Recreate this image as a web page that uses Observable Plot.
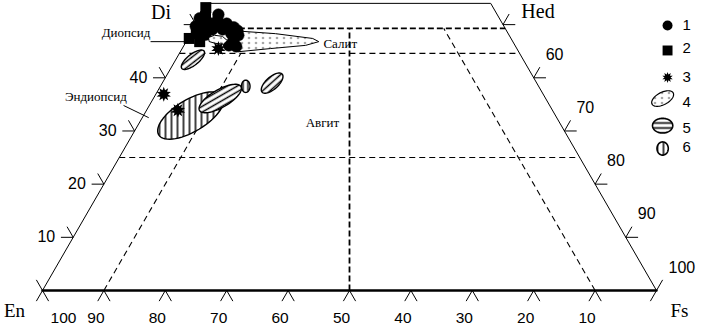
<!DOCTYPE html>
<html><head><meta charset="utf-8">
<script src="https://cdn.jsdelivr.net/npm/d3@7"></script>
<script src="https://cdn.jsdelivr.net/npm/@observablehq/plot@0.6"></script>
<style>body{margin:0;background:#fff}#chart{width:701px;height:328px}</style>
</head><body><div id="chart"></div>
<script>
// ---------- data (Wo = wollastonite %, Fs = ferrosilite %) ----------
const frameFs = [0, 100, 46, 0];
const frameWo = [0, 0, 54, 54];
const bottomTickFs = [0, 10, 20, 30, 40, 50, 60, 70, 80, 90, 100];
const bottomTickLabels = ["100", "90", "80", "70", "60", "50", "40", "30", "20", "10"];
const leftTickWo = [0, 10, 20, 30, 40, 50];
const leftTickLabels = ["10", "20", "30", "40"];
const rightTickWo = [0, 10, 20, 30, 40, 50];
const rightTickLabels = ["100", "90", "80", "70", "60"];
const cornerNames = ["En", "Fs", "Di", "Hed"];
const cornerFs = [0, 100, 0, 50];
const cornerWo = [0, 0, 50, 50];
// dashed boundary lines: from (Fs,Wo) to (Fs,Wo)
const dashFromFs = [0, 0, 0, 10, 90, 50];
const dashFromWo = [49.3, 44.6, 25, 0, 0, 0];
const dashToFs = [50.7, 55.4, 75, 10, 40.7, 25.35];
const dashToWo = [49.3, 44.6, 25, 44.6, 49.3, 49.3];
// field names
const fieldNames = ["Диопсид", "Салит", "Эндиопсид", "Авгит"];
const fieldNameX = [13.6, 48.5, 8.7, 45.6];
const fieldNameWo = [48.4, 46.3, 36.5, 31.6];
// group 1 (circles), 2 (squares), 3 (stars)
const g1Wo = [51.2, 50.4, 50.8, 50.2, 49.5, 49.3, 49.1, 49.1, 48.3, 47.0, 46.1, 48.1, 48.9, 49.7, 49.8, 49.7, 48.0, 45.9, 51.9];
const g1Fs = [0.0, 1.8, 3.1, 4.9, 6.4, 1.4, 3.1, 4.8, 6.6, 7.6, 7.3, 2.5, 7.3, 0.1, 3.3, 5.0, 7.9, 8.6, 2.7];
const g2Wo = [53.2, 51.5, 47.4, 46.8, 48.3];
const g2Fs = [0.0, 0.8, 0.2, 2.2, 0.9];
const g3Wo = [45.5, 36.9, 33.9];
const g3Fs = [5.9, 1.3, 5.1];
// group 4 fields (outlines)
const salitWo = [48.8, 48.3, 47.4, 46.8, 46.1, 45.5, 44.9];
const salitFs = [7.4, 13.8, 20.3, 21.6, 19.8, 14.4, 9.4];
const small4Wo = [47.6, 48.0, 47.8, 47.0, 46.3, 46.5, 46.8];
const small4Fs = [3.3, 4.0, 5.4, 6.6, 6.3, 4.8, 3.8];
// group 5 and 6 fields (ellipses): centre, semi-axes, tilt
const ellType = ["6", "5", "5", "5", "5"];
const ellWo = [32.9, 36.1, 43.4, 38.4, 39.0];
const ellFs = [7.7, 10.9, 2.8, 13.9, 17.9];
const ellA = [6.1, 3.9, 2.3, 1.0, 2.2];
const ellB = [2.6, 1.45, 0.9, 0.7, 1.0];
const ellAng = [31, 30, 38, 90, 42];
const legendKeys = ["1", "2", "3", "4", "5", "6"];

// ---------- helpers ----------
const K = Math.sqrt(3) / 2;
const X = (fs, wo) => fs + wo / 2;
function ellipse(wo0, fs0, a, b, angDeg, n = 60) {
  const th = angDeg * Math.PI / 180, pts = [];
  for (let i = 0; i < n; i++) {
    const t = 2 * Math.PI * i / n;
    const dx = a * Math.cos(t) * Math.cos(th) - b * Math.sin(t) * Math.sin(th);
    const dy = a * Math.cos(t) * Math.sin(th) + b * Math.sin(t) * Math.cos(th);
    pts.push({x: X(fs0, wo0) + dx, y: wo0 + dy / K});
  }
  return pts;
}
const sun = {draw(ctx, size) {
  const R = Math.sqrt(size / Math.PI), r = R * 0.55, n = 10;
  for (let i = 0; i < 2 * n; i++) {
    const a = Math.PI * i / n - Math.PI / 2, rr = i % 2 ? r : R;
    const x = rr * Math.cos(a), y = rr * Math.sin(a);
    i ? ctx.lineTo(x, y) : ctx.moveTo(x, y);
  }
  ctx.closePath();
}};

const frame = frameFs.map((f, i) => ({x: X(f, frameWo[i]), y: frameWo[i]}));
const ticks = [];
bottomTickFs.forEach(fs => {
  ticks.push({x1: fs, y1: 0, x2: fs - 1, y2: -2});
  if (fs < 100) ticks.push({x1: fs, y1: 0, x2: fs + 1, y2: -2});
});
leftTickWo.forEach(wo => {
  const x = wo / 2;
  ticks.push({x1: x, y1: wo, x2: x - 1, y2: wo + 2});
  if (wo > 0) ticks.push({x1: x, y1: wo, x2: x - 2, y2: wo});
});
rightTickWo.forEach(wo => {
  const x = 100 - wo / 2;
  ticks.push({x1: x, y1: wo, x2: x + 1, y2: wo + 2});
  if (wo > 0) ticks.push({x1: x, y1: wo, x2: x + 2, y2: wo});
});
const dashes = dashFromFs.map((f, i) => ({x1: X(f, dashFromWo[i]), y1: dashFromWo[i], x2: X(dashToFs[i], dashToWo[i]), y2: dashToWo[i], i}));
const g1 = g1Wo.map((w, i) => ({x: X(g1Fs[i], w), y: w}));
const g2 = g2Wo.map((w, i) => ({x: X(g2Fs[i], w), y: w}));
const g3 = g3Wo.map((w, i) => ({x: X(g3Fs[i], w), y: w}));
const salit = salitWo.map((w, i) => ({x: X(salitFs[i], w), y: w}));
const small4 = small4Wo.map((w, i) => ({x: X(small4Fs[i], w), y: w}));
const patFor = i => ellType[i] === "6" ? "url(#pv)" : `url(#ph${i})`;

const sans = "'Liberation Sans', Arial, sans-serif";
const serif = "'Liberation Serif', 'Times New Roman', serif";
const lineMark = (pts, o) => Plot.line(pts, {x: "x", y: "y", curve: "linear-closed", stroke: "black", ...o});

// legend placement (in plot units)
const legX = 101.8, legLabX = 104.9;
const legY = [49.84, 45.14, 40.06, 36.1, 31.0, 26.7];
const legLabY = [49.84, 45.5, 40.06, 35.4, 30.5, 26.9];

const marks = [
  Plot.line([frame[1], frame[2], frame[3], frame[0]], {x: "x", y: "y", stroke: "black", strokeWidth: 1}),
  Plot.line([frame[0], frame[1]], {x: "x", y: "y", stroke: "black", strokeWidth: 2.4}),
  ...dashes.map(d => Plot.link([d], {x1: "x1", y1: "y1", x2: "x2", y2: "y2", stroke: "black",
    strokeWidth: (d.i === 0 || d.i === 5) ? 1.8 : 1.1, strokeDasharray: (d.i === 0 || d.i === 5) ? "6,3" : "6,4"})),
  Plot.link(ticks, {x1: "x1", y1: "y1", x2: "x2", y2: "y2", stroke: "black", strokeWidth: 1}),
  Plot.text(bottomTickLabels.slice(1), {x: (d, i) => bottomTickFs[i + 1], y: 0, dy: 28, dx: -8, fontFamily: sans, fontSize: 15.5}),
  Plot.text(bottomTickLabels.slice(0, 1), {x: bottomTickFs[0], y: 0, dy: 28, dx: 21, fontFamily: sans, fontSize: 15.5}),
  Plot.text(leftTickLabels, {x: (d, i) => leftTickWo[i + 1] / 2, y: (d, i) => leftTickWo[i + 1], dx: -18, textAnchor: "end", fontFamily: sans, fontSize: 16}),
  Plot.text(rightTickLabels, {x: (d, i) => 100 - rightTickWo[i] / 2, y: (d, i) => rightTickWo[i], dx: 12, dy: -23, textAnchor: "start", fontFamily: sans, fontSize: 16}),
  Plot.text([cornerNames[0]], {x: X(cornerFs[0], cornerWo[0]), y: cornerWo[0], dx: -28, dy: 20, fontFamily: serif, fontSize: 19}),
  Plot.text([cornerNames[1]], {x: X(cornerFs[1], cornerWo[1]), y: cornerWo[1], dx: 23, dy: 20, fontFamily: serif, fontSize: 19}),
  Plot.text([cornerNames[2]], {x: X(cornerFs[2], cornerWo[2]), y: cornerWo[2], dx: -35, dy: -12, fontFamily: serif, fontSize: 20}),
  Plot.text([cornerNames[3]], {x: X(cornerFs[3], cornerWo[3]), y: cornerWo[3], dx: 35, dy: -13, fontFamily: serif, fontSize: 20}),
  lineMark(salit, {fill: "url(#pd)", strokeWidth: 1}),
  ...ellType.map((t, i) => lineMark(ellipse(ellWo[i], ellFs[i], ellA[i], ellB[i], ellAng[i]), {fill: patFor(i), strokeWidth: 1.4})),
  Plot.dot(g1, {x: "x", y: "y", r: 5.8, fill: "black", stroke: "black", strokeWidth: 0.5}),
  Plot.dot(g2, {x: "x", y: "y", symbol: "square", r: 6.2, fill: "black"}),
  lineMark(small4, {fill: "url(#pd)", strokeWidth: 1}),
  Plot.dot(g3, {x: "x", y: "y", symbol: sun, r: 7.5, fill: "black"}),
  Plot.text(fieldNames, {x: (d, i) => fieldNameX[i], y: (d, i) => fieldNameWo[i], fontFamily: serif, fontSize: 13}),
  Plot.link([{x1: 17.6, y1: 46.8, x2: 23.6, y2: 46.8}, {x1: 13.2, y1: 34.8, x2: 17.3, y2: 32.5}],
    {x1: "x1", y1: "y1", x2: "x2", y2: "y2", stroke: "black", strokeWidth: 1}),
  Plot.dot([legendKeys[0]], {x: legX, y: legY[0], r: 5, fill: "black"}),
  Plot.dot([legendKeys[1]], {x: legX, y: legY[1], symbol: "square", r: 5.6, fill: "black"}),
  Plot.dot([legendKeys[2]], {x: legX, y: legY[2], symbol: sun, r: 5.5, fill: "black"}),
  lineMark(ellipse(legY[3], legX - 0.8 - legY[3] / 2, 1.95, 1.0, 28), {fill: "url(#pd)", strokeWidth: 1.2}),
  lineMark(ellipse(legY[4], legX - 0.8 - legY[4] / 2, 1.65, 1.2, 0), {fill: "url(#phl)", strokeWidth: 1.6}),
  lineMark(ellipse(legY[5], legX - 0.8 - legY[5] / 2, 1.08, 0.92, 90), {fill: "url(#pv)", strokeWidth: 1.6}),
  Plot.text(legendKeys, {x: legLabX, y: (d, i) => legLabY[i], fontFamily: sans, fontSize: 15})
];

const svg = Plot.plot({
  width: 701, height: 328, margin: 0,
  x: {domain: [0, 100], range: [42, 656], axis: null},
  y: {domain: [0, 50], range: [290, 290 - 50 * 6.14 * K], axis: null},
  style: {background: "white", overflow: "visible"},
  marks
});

const ns = "http://www.w3.org/2000/svg";
const defs = document.createElementNS(ns, "defs");
let html = `<pattern id="pv" patternUnits="userSpaceOnUse" width="6" height="6"><rect width="6" height="6" fill="white"/><line x1="3" y1="0" x2="3" y2="6" stroke="black" stroke-width="1.5"/></pattern>
<pattern id="phl" patternUnits="userSpaceOnUse" width="6" height="5"><rect width="6" height="5" fill="white"/><line x1="0" y1="2.5" x2="6" y2="2.5" stroke="black" stroke-width="1.6"/></pattern>
<pattern id="pd" patternUnits="userSpaceOnUse" width="7" height="5"><rect width="7" height="5" fill="white"/><circle cx="3.5" cy="2.5" r="0.8" fill="black"/></pattern>`;
ellType.forEach((t, i) => {
  if (t === "5") html += `<pattern id="ph${i}" patternUnits="userSpaceOnUse" width="6" height="5" patternTransform="rotate(${-ellAng[i] % 180})"><rect width="6" height="5" fill="white"/><line x1="0" y1="2.5" x2="6" y2="2.5" stroke="black" stroke-width="1.5"/></pattern>`;
});
defs.innerHTML = html;
svg.insertBefore(defs, svg.firstChild);
document.getElementById("chart").appendChild(svg);
</script>
</body></html>
